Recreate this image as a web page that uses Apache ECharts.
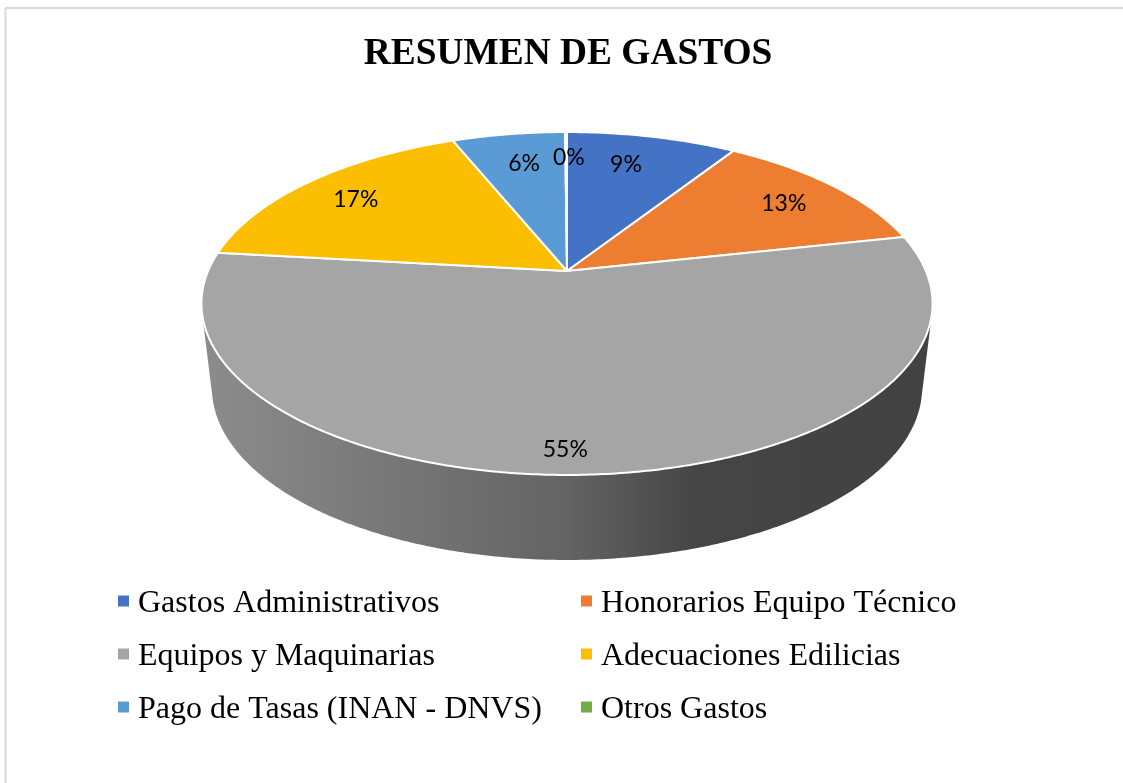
<!DOCTYPE html>
<html>
<head>
<meta charset="utf-8">
<title>Resumen de gastos</title>
<script src="https://cdn.jsdelivr.net/npm/echarts@6/dist/echarts.min.js"></script>
<style>
  html, body { margin: 0; padding: 0; background: #fff; }
  #chart { width: 1123px; height: 783px; }
</style>
</head>
<body>
<div id="chart"></div>
<script>
const categories = ['Gastos Administrativos', 'Honorarios Equipo Técnico', 'Equipos y Maquinarias',
  'Adecuaciones Edilicias', 'Pago de Tasas (INAN - DNVS)', 'Otros Gastos'];
const values = [9.04, 12.52, 55.24, 17.1, 6.0, 0.1];
const colors = ['#4472C4', '#ED7D31', '#A5A5A5', '#FCBE00', '#5B9BD5', '#70AD47'];
const legendLeft = [categories[0], categories[2], categories[4]];
const legendRight = [categories[1], categories[3], categories[5]];

// where each label sits inside its slice: radius fraction, and angle nudge in degrees
const labelRadius = [0.76, 0.79, 0.895, 0.795, 0.75, 0.79];
const labelNudge = [-2, 0.9, 3.2, -1, 0.7, 0.6];

const total = values.reduce((a, b) => a + b, 0);
const TAU = Math.PI * 2;

// perspective of the tilted disc: the centre of the pie is above the middle of the ellipse
const persp = 0.1895;
const topFace = { cx: 567, cy: 271, a: 358.9, b: 165.3 };
const bottomFace = { cx: 567, cy: 355.4, a: 348.6, b: 165.8 };

function project(face, theta, r) {
  const d = 1 / (1 + persp * r * Math.cos(theta));
  return [face.cx + face.a * r * Math.sin(theta) * d, face.cy - face.b * r * Math.cos(theta) * d];
}

function arc(face, from, to) {
  const n = Math.max(2, Math.ceil((to - from) / 0.01));
  const pts = [];
  for (let i = 0; i <= n; i++) pts.push(project(face, from + (to - from) * i / n, 1));
  return pts;
}

// outline of the side wall, the top and bottom rim joined by their tangents
function hull(points) {
  const p = points.slice().sort((a, b) => a[0] - b[0] || a[1] - b[1]);
  const cross = (o, a, b) => (a[0] - o[0]) * (b[1] - o[1]) - (a[1] - o[1]) * (b[0] - o[0]);
  const half = list => {
    const out = [];
    list.forEach(pt => {
      while (out.length > 1 && cross(out[out.length - 2], out[out.length - 1], pt) <= 0) out.pop();
      out.push(pt);
    });
    out.pop();
    return out;
  };
  return half(p).concat(half(p.slice().reverse()));
}

function shade(color, f) {
  const c = echarts.color.parse(color);
  return 'rgb(' + [c[0], c[1], c[2]].map(v => Math.round(v * f)).join(',') + ')';
}

function renderSlice(params, api) {
  const from = api.value(0) / total * TAU;
  const to = api.value(1) / total * TAU;
  const i = params.seriesIndex;
  const rim = arc(topFace, from, to);
  const mid = (from + to) / 2 + labelNudge[i] * Math.PI / 180;
  const pos = project(topFace, mid, labelRadius[i]);
  return {
    type: 'group',
    children: [
      {
        type: 'polygon',
        z2: 1,
        shape: { points: hull(rim.concat(arc(bottomFace, from, to))) },
        style: {
          fill: new echarts.graphic.LinearGradient(204, 0, 930, 0, [
            { offset: 0, color: shade(colors[i], 0.85) },
            { offset: 0.5, color: shade(colors[i], 0.6) },
            { offset: 0.68, color: shade(colors[i], 0.42) },
            { offset: 1, color: shade(colors[i], 0.4) }
          ], true)
        }
      },
      {
        type: 'polygon',
        z2: 5,
        shape: { points: [[topFace.cx, topFace.cy]].concat(rim) },
        style: { fill: colors[i], stroke: '#fff', lineWidth: 2, lineJoin: 'round' }
      },
      {
        type: 'text',
        z2: 10,
        x: pos[0],
        y: pos[1],
        style: {
          text: Math.round(api.value(2) / total * 100) + '%',
          font: '23px Lato',
          fill: '#000',
          align: 'center',
          verticalAlign: 'middle'
        }
      }
    ]
  };
}

let running = 0;
const series = categories.map((name, i) => {
  const start = running;
  running += values[i];
  return {
    name: name,
    type: 'custom',
    coordinateSystem: 'none',
    renderItem: renderSlice,
    itemStyle: { color: colors[i] },
    silent: true,
    data: [[start, running, values[i]]]
  };
});

function legend(names, left) {
  return {
    data: names,
    orient: 'vertical',
    left: left,
    top: 588,
    icon: 'rect',
    itemWidth: 11,
    itemHeight: 11,
    itemGap: 21,
    selectedMode: false,
    padding: 0,
    formatter: '{t|{name}}',
    textStyle: {
      rich: { t: { fontFamily: 'Liberation Serif', fontSize: 32, color: '#000', padding: [6, 0, 0, 4] } }
    }
  };
}

const chart = echarts.init(document.getElementById('chart'), null, { renderer: 'canvas' });
chart.setOption({
  animation: false,
  backgroundColor: '#fff',
  title: {
    text: 'RESUMEN DE GASTOS',
    left: 563,
    textAlign: 'center',
    top: 31,
    textStyle: { fontFamily: 'Liberation Serif', fontSize: 37.4, fontWeight: 'bold', color: '#000' }
  },
  legend: [legend(legendLeft, 118), legend(legendRight, 581)],
  graphic: [
    { type: 'line', silent: true, shape: { x1: 5.5, y1: 8, x2: 5.5, y2: 783 }, style: { stroke: '#d9d9d9', lineWidth: 2 } },
    { type: 'line', silent: true, shape: { x1: 5, y1: 8, x2: 1123, y2: 8 }, style: { stroke: '#d9d9d9', lineWidth: 2 } }
  ],
  series: series
});
</script>
</body>
</html>
